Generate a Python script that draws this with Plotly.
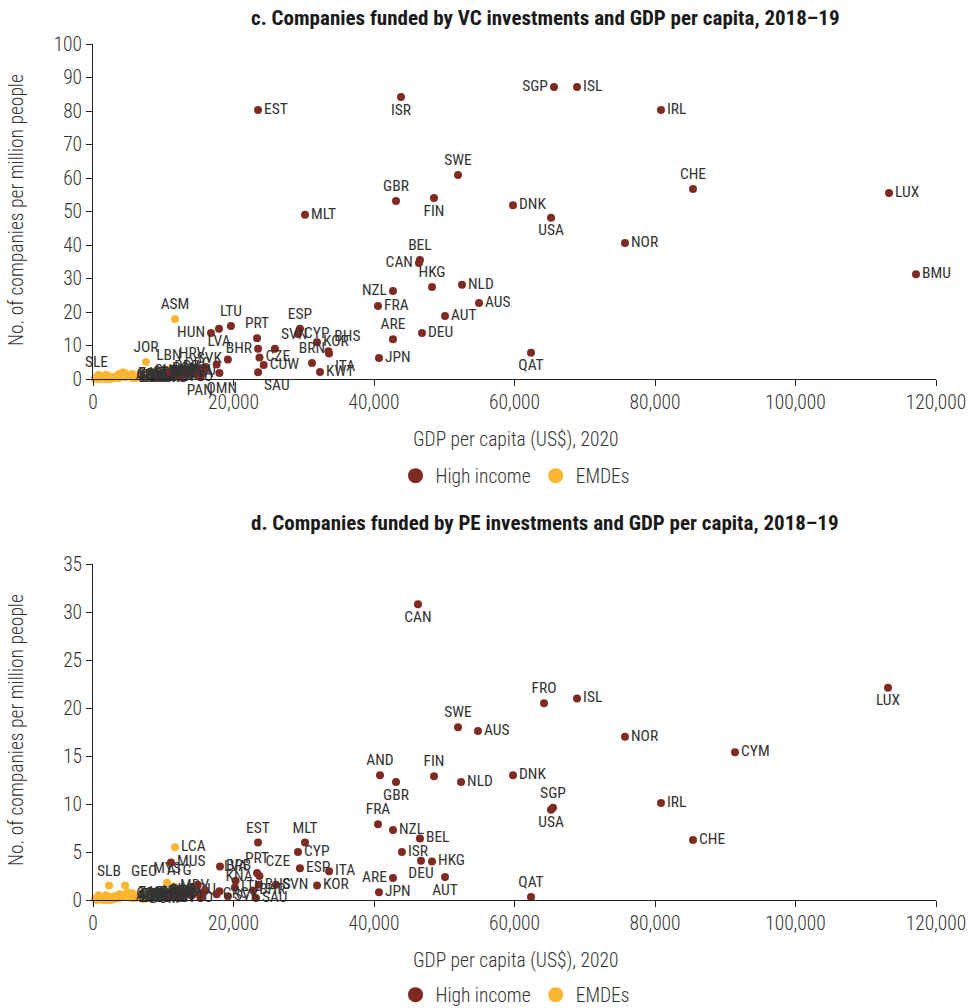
import plotly.graph_objects as go

FONT = "Roboto Condensed, DejaVu Sans Condensed, sans-serif"
HI_COLOR = "#7f2b24"
EM_COLOR = "#fbb631"
TXT = "#333333"

# ---------------- Panel c: VC ----------------
c_hi_codes = ["EST", "ISR", "SGP", "ISL", "IRL", "SWE", "CHE", "LUX", "GBR", "FIN", "DNK", "MLT", "USA",
              "NOR", "BEL", "CAN", "BMU", "HKG", "NLD", "NZL", "AUS", "FRA", "AUT", "DEU", "LTU", "HUN",
              "LVA", "PRT", "BHR", "SVN", "ESP", "CYP", "KOR", "BRN", "ITA", "BHS", "JPN", "KWT", "ARE",
              "QAT", "CZE", "SAU", "CUW", "SVK", "GRC", "POL", "HRV", "CHL", "URY", "PAN", "OMN", "TTO",
              "KNA", "ATG", "BRB", "SYC"]
c_hi_gdp = [23490, 43840, 65620, 68900, 80850, 51960, 85410, 113310, 43130, 48540, 59790, 30180, 65200,
            75730, 46540, 46400, 117150, 48260, 52530, 42700, 54950, 40570, 50110, 46830, 19640, 16800,
            17940, 23350, 23500, 25900, 29460, 29180, 31890, 31170, 33600, 33500, 40710, 32310, 42700,
            62350, 23700, 23500, 24300, 19200, 17600, 15700, 14100, 13200, 15400, 12500, 15300, 15300,
            18000, 14900, 16000, 11000]
c_hi_val = [80.3, 84.2, 87.2, 87.2, 80.3, 60.9, 56.7, 55.5, 53.1, 54.0, 51.9, 49.0, 48.1,
            40.6, 35.5, 34.6, 31.3, 27.5, 28.1, 26.3, 22.7, 21.8, 18.8, 13.7, 15.8, 13.7,
            15.0, 12.2, 9.0, 9.0, 15.0, 13.4, 11.0, 4.8, 7.6, 8.3, 6.3, 2.1, 11.9,
            7.8, 6.4, 2.0, 4.2, 5.8, 4.3, 2.8, 3.2, 2.4, 1.5, 0.6, 1.0, 0.5,
            1.8, 0.9, 3.6, 2.0]
c_hi_pos = ["middle right", "bottom center", "middle left", "middle right", "middle right", "top center",
            "top center", "middle right", "top center", "bottom center", "middle right", "middle right",
            "bottom center", "middle right", "top center", "middle left", "middle right", "top center",
            "middle right", "middle left", "middle right", "middle right", "middle right", "middle right",
            "top center", "middle left", "bottom center", "top center", "middle left", "top right",
            "top center", "middle right", "middle right", "top center", "bottom right", "top right",
            "middle right", "middle right", "top center", "bottom center", "middle right", "bottom right",
            "middle right", "middle left", "middle left", "middle left", "top center", "middle left",
            "middle left", "bottom right", "bottom right", "middle center", "middle left", "middle left",
            "middle left", "middle right"]

c_em_codes = ["SLE", "JOR", "LBN", "ASM", "BDI", "MOZ", "NER", "MWI", "UGA", "RWA", "ETH", "ZMB", "TZA",
              "NPL", "KGZ", "PAK", "MMR", "SEN", "CMR", "KHM", "UZB", "KEN", "NIC", "IND", "BGD", "NGA",
              "GHA", "CIV", "HND", "LAO", "VNM", "MAR", "BOL", "PHL", "TUN", "EGY", "LKA", "UKR", "SLV",
              "IDN", "MNG", "ARM", "GEO", "MDA", "GTM", "JAM", "ALB", "COL", "ECU", "ZAF", "MKD", "BIH",
              "PER", "BRA", "THA", "DOM", "SRB", "MEX", "TUR", "ARG", "GRD", "MUS", "KAZ", "LCA", "RUS",
              "BGR", "CHN", "MYS", "CRI", "ROU"]
c_em_gdp = [500, 7540, 10800, 11670, 270, 450, 560, 630, 820, 800, 940, 980, 1080,
            1150, 1180, 1190, 1400, 1470, 1500, 1500, 1750, 1840, 1900, 1930, 2000, 2100,
            2200, 2280, 2400, 2600, 2780, 3050, 3140, 3300, 3500, 3550, 3700, 3750, 3800,
            3870, 4000, 4270, 4280, 4500, 4600, 4900, 5200, 5300, 5600, 5600, 5900, 6100,
            6100, 6800, 7200, 7200, 7700, 8300, 8600, 8600, 9000, 9000, 9100, 9300, 10100,
            10100, 10400, 10400, 12100, 12900]
c_em_val = [0.5, 5.1, 2.8, 17.9, 0.1, 0.3, 0.1, 0.2, 0.9, 1.2, 0.2, 0.1, 0.4,
            0.5, 0.3, 0.5, 0.2, 0.4, 0.3, 0.5, 0.1, 1.3, 0.1, 1.1, 0.2, 0.6,
            0.8, 0.2, 0.2, 0.1, 0.7, 0.4, 0.3, 0.6, 1.0, 0.9, 0.3, 1.6, 0.5,
            0.8, 0.9, 1.5, 2.0, 1.7, 0.6, 1.4, 0.8, 1.2, 0.4, 1.5, 0.5, 0.3,
            1.0, 1.1, 0.6, 0.2, 1.8, 0.7, 1.6, 2.0, 0.3, 1.9, 0.5, 0.8, 1.3,
            2.2, 1.4, 2.4, 1.7, 2.5]
c_em_labels = ["SLE", "JOR", "LBN", "ASM"] + [""] * 42 + c_em_codes[46:]
c_em_pos = ["top center", "top center", "top center", "top center"] + ["middle right"] * 66

# ---------------- Panel d: PE ----------------
d_hi_codes = ["CAN", "LUX", "ISL", "FRO", "SWE", "AUS", "NOR", "CYM", "AND", "FIN", "DNK", "GBR", "NLD",
              "IRL", "SGP", "USA", "FRA", "NZL", "BEL", "CHE", "EST", "MLT", "CYP", "ISR", "DEU", "HKG",
              "MUS", "ESP", "ITA", "BRB", "PRT", "CZE", "ARE", "AUT", "KOR", "SVN", "BHS", "JPN", "QAT",
              "SAU", "LVA", "LTU", "HUN", "POL", "HRV", "GRC", "SVK", "CHL", "URY", "OMN", "BHR", "KNA",
              "ATG", "PAN", "TTO", "SYC"]
d_hi_gdp = [46260, 113170, 68900, 64200, 51960, 54800, 75730, 91390, 40850, 48540, 59790, 43130, 52390,
            80850, 65480, 65200, 40570, 42700, 46540, 85410, 23490, 30180, 29180, 43980, 46690, 48260,
            11100, 29460, 33600, 18080, 23350, 23700, 42700, 50110, 31890, 26040, 23600, 40710, 62350,
            23200, 20300, 20200, 16000, 15700, 14100, 17600, 19200, 13200, 15400, 15300, 22800, 18000,
            14900, 12500, 15300, 11000]
d_hi_val = [30.8, 22.1, 21.0, 20.5, 18.0, 17.6, 17.0, 15.4, 13.0, 12.9, 13.0, 12.3, 12.3,
            10.1, 9.6, 9.4, 7.9, 7.3, 6.4, 6.25, 6.0, 6.0, 5.0, 5.0, 4.1, 4.0,
            3.9, 3.3, 3.0, 3.5, 2.8, 2.5, 2.3, 2.4, 1.5, 1.6, 1.6, 0.8, 0.3,
            0.2, 2.0, 1.3, 1.0, 0.8, 0.5, 0.6, 0.4, 0.7, 0.3, 0.4, 1.0, 0.9,
            1.6, 0.2, 0.2, 0.5]
d_hi_pos = ["bottom center", "bottom center", "middle right", "top center", "top center", "middle right",
            "middle right", "middle right", "top center", "top center", "middle right", "bottom center",
            "middle right", "middle right", "top center", "bottom center", "top center", "middle right",
            "middle right", "middle right", "top center", "top center", "middle right", "middle right",
            "bottom center", "middle right", "middle right", "middle right", "middle right", "middle right",
            "top center", "top right", "middle left", "bottom center", "middle right", "middle right",
            "middle right", "middle right", "top center", "middle right", "top center", "middle right",
            "middle left", "middle left", "middle left", "middle right", "middle right", "middle left",
            "middle left", "middle left", "middle right", "top right", "top left", "middle center",
            "middle center", "middle left"]

d_em_codes = ["SLB", "GEO", "MYS", "MDV", "LCA", "BDI", "MOZ", "NER", "MWI", "UGA", "RWA", "ETH", "ZMB",
              "TZA", "NPL", "KGZ", "PAK", "MMR", "SEN", "CMR", "KHM", "UZB", "KEN", "NIC", "IND", "BGD",
              "NGA", "GHA", "CIV", "HND", "LAO", "VNM", "MAR", "BOL", "PHL", "TUN", "EGY", "LKA", "UKR",
              "SLV", "IDN", "MNG", "ARM", "MDA", "GTM", "JAM", "ALB", "COL", "ECU", "ZAF", "MKD", "BIH",
              "PER", "BRA", "THA", "DOM", "SRB", "MEX", "TUR", "ARG", "GRD", "KAZ", "RUS", "BGR", "CHN",
              "CRI", "ROU"]
d_em_gdp = [2280, 4560, 10540, 11530, 11670, 270, 450, 560, 630, 820, 800, 940, 980,
            1080, 1150, 1180, 1190, 1400, 1470, 1500, 1500, 1750, 1840, 1900, 1930, 2000,
            2100, 2200, 2280, 2400, 2600, 2780, 3050, 3140, 3300, 3500, 3550, 3700, 3750,
            3800, 3870, 4000, 4270, 4500, 4600, 4900, 5200, 5300, 5600, 5600, 5900, 6100,
            6100, 6800, 7200, 7200, 7700, 8300, 8600, 8600, 9000, 9100, 10100, 10100, 10400,
            12100, 12900]
d_em_val = [1.5, 1.5, 1.8, 1.4, 5.5, 0.1, 0.2, 0.0, 0.1, 0.3, 0.5, 0.1, 0.2,
            0.2, 0.1, 0.3, 0.2, 0.0, 0.1, 0.1, 0.2, 0.1, 0.5, 0.0, 0.4, 0.1,
            0.2, 0.3, 0.2, 0.1, 0.0, 0.3, 0.4, 0.1, 0.3, 0.2, 0.4, 0.2, 0.6,
            0.2, 0.3, 0.5, 0.4, 0.6, 0.3, 0.8, 0.3, 0.6, 0.2, 0.7, 0.3, 0.2,
            0.5, 0.4, 0.3, 0.1, 0.6, 0.4, 0.7, 0.8, 0.2, 0.3, 0.5, 0.9, 0.6,
            0.7, 1.0]
d_em_labels = ["SLB", "GEO", "MYS", "MDV", "LCA"] + [""] * 41 + d_em_codes[46:]
d_em_pos = ["top center", "top right", "top center", "middle right", "middle right"] + ["middle right"] * 62

x_ticks = [0, 20000, 40000, 60000, 80000, 100000, 120000]
c_y_ticks = [0, 10, 20, 30, 40, 50, 60, 70, 80, 90, 100]
d_y_ticks = [0, 5, 10, 15, 20, 25, 30, 35]

title_c = "c. Companies funded by VC investments and GDP per capita, 2018–19"
title_d = "d. Companies funded by PE investments and GDP per capita, 2018–19"
x_title = "GDP per capita (US$), 2020"
y_title = "No. of companies per million people"

fig = go.Figure()

LBL = dict(family=FONT, size=15.5, color=TXT, weight=400)
MS = 8


def add_panel(xa, ya, em, hi, legend):
    (eg, ev, el, ep) = em
    (hg, hv, hl, hp) = hi
    fig.add_trace(go.Scatter(x=eg, y=ev, text=el, textposition=ep, mode="markers+text",
                             marker=dict(color=EM_COLOR, size=MS), textfont=LBL, cliponaxis=False,
                             xaxis=xa, yaxis=ya, showlegend=False, hoverinfo="skip"))
    fig.add_trace(go.Scatter(x=hg, y=hv, text=hl, textposition=hp, mode="markers+text",
                             marker=dict(color=HI_COLOR, size=MS), textfont=LBL, cliponaxis=False,
                             xaxis=xa, yaxis=ya, showlegend=False, hoverinfo="skip"))
    fig.add_trace(go.Scatter(x=[None], y=[None], mode="markers", name="High income",
                             marker=dict(color=HI_COLOR, size=15), xaxis=xa, yaxis=ya, legend=legend))
    fig.add_trace(go.Scatter(x=[None], y=[None], mode="markers", name="EMDEs",
                             marker=dict(color=EM_COLOR, size=15), xaxis=xa, yaxis=ya, legend=legend))


add_panel("x", "y", (c_em_gdp, c_em_val, c_em_labels, c_em_pos),
          (c_hi_gdp, c_hi_val, c_hi_codes, c_hi_pos), "legend")
add_panel("x2", "y2", (d_em_gdp, d_em_val, d_em_labels, d_em_pos),
          (d_hi_gdp, d_hi_val, d_hi_codes, d_hi_pos), "legend2")

W, H = 970, 1008
xdom = [93 / W, 936 / W]
ax_common = dict(showgrid=False, zeroline=False, showline=True, linecolor="#222", linewidth=1,
                 ticks="outside", ticklen=6, tickcolor="#222",
                 tickfont=dict(family=FONT, size=19.5, color=TXT, weight=300))

LEG_FONT = dict(family=FONT, size=19.5, color=TXT, weight=300)
fig.update_layout(
    width=W, height=H, margin=dict(l=0, r=0, t=0, b=0, autoexpand=False),
    paper_bgcolor="white", plot_bgcolor="white",
    font=dict(family=FONT, color=TXT),
    xaxis=dict(domain=xdom, range=[0, 120000], tickvals=x_ticks, tickformat=",", anchor="y", **ax_common),
    yaxis=dict(domain=[1 - 379 / H, 1 - 44 / H], range=[0, 100], tickvals=c_y_ticks, anchor="x", **ax_common),
    xaxis2=dict(domain=xdom, range=[0, 120000], tickvals=x_ticks, tickformat=",", anchor="y2", **ax_common),
    yaxis2=dict(domain=[1 - 900 / H, 1 - 564 / H], range=[0, 35], tickvals=d_y_ticks, anchor="x2", **ax_common),
    legend=dict(orientation="h", x=515 / W, xanchor="center", y=1 - 476 / H, yanchor="middle",
                font=LEG_FONT, itemwidth=30, tracegroupgap=0),
    legend2=dict(orientation="h", x=515 / W, xanchor="center", y=1 - 995 / H, yanchor="middle",
                 font=LEG_FONT, itemwidth=30, tracegroupgap=0),
)

ann = []
for ttl, ty in ((title_c, 18), (title_d, 523)):
    ann.append(dict(text="<b>" + ttl + "</b>", x=545 / W, y=1 - ty / H, xref="paper", yref="paper",
                    showarrow=False, font=dict(family=FONT, size=21, color="#1a1a1a"), xanchor="center",
                    yanchor="middle"))
for ty in (439, 960):
    ann.append(dict(text=x_title, x=515 / W, y=1 - ty / H, xref="paper", yref="paper", showarrow=False,
                    font=dict(family=FONT, size=19.5, color=TXT, weight=300), xanchor="center", yanchor="middle"))
for ty in (210, 730):
    ann.append(dict(text=y_title, x=16 / W, y=1 - ty / H, xref="paper", yref="paper", showarrow=False,
                    textangle=-90, font=dict(family=FONT, size=19.5, color=TXT, weight=300), xanchor="center",
                    yanchor="middle"))
fig.update_layout(annotations=ann)

fig.write_html("out.html", config={"displayModeBar": False},
               post_script="document.body.style.margin='0';")
